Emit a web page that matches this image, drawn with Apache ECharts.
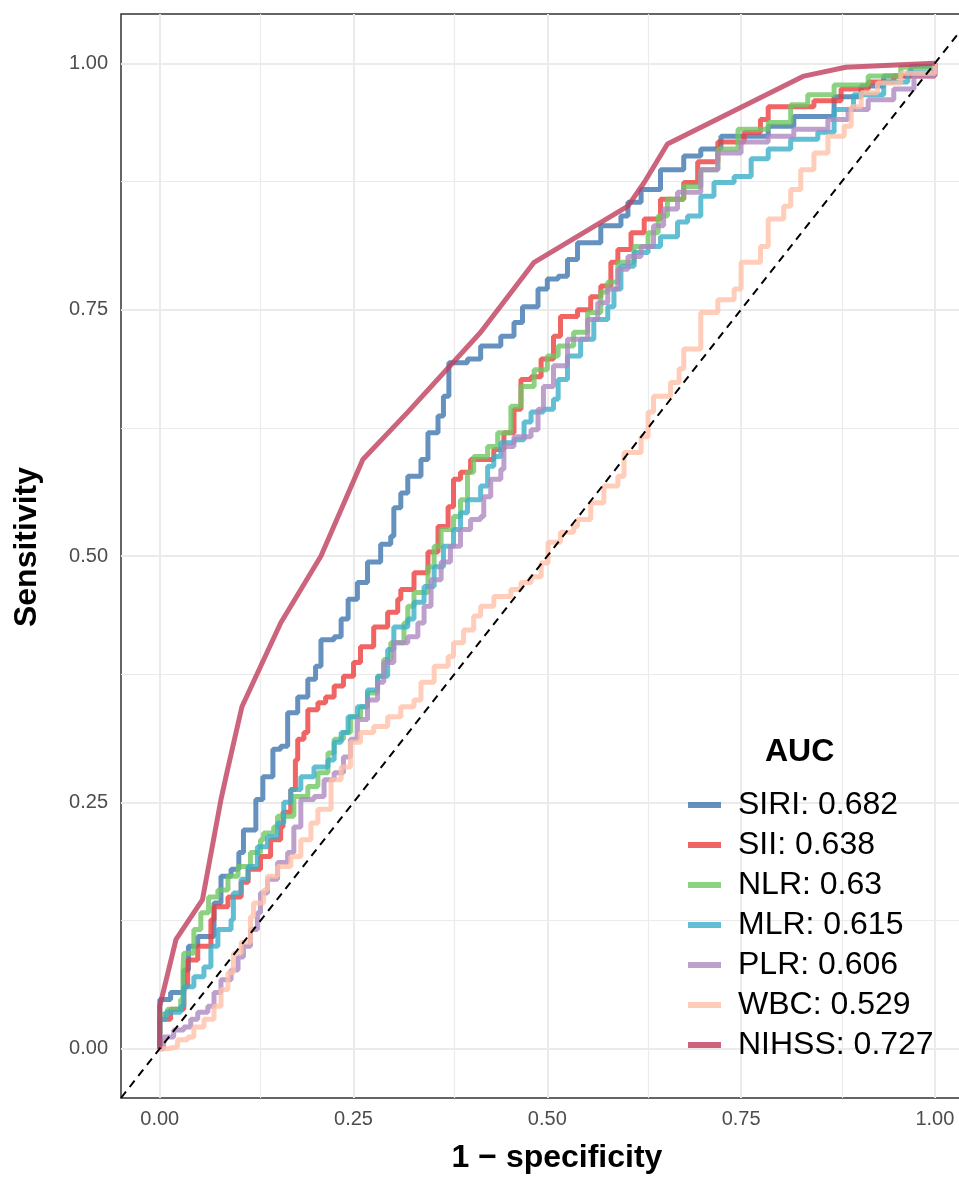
<!DOCTYPE html>
<html>
<head>
<meta charset="utf-8">
<script src="https://cdn.jsdelivr.net/npm/echarts@6/dist/echarts.min.js"></script>
<style>
  html, body { margin: 0; padding: 0; background: #fff; }
  #chart { width: 959px; height: 1177px; }
</style>
</head>
<body>
<div id="chart"></div>
<script>
// ROC points as [1 - specificity, sensitivity]
const SIRI = [[0,0],[0,0.05],[0.014,0.057],[0.031,0.08],[0.037,0.104],[0.049,0.114],[0.07,0.148],[0.079,0.175],[0.092,0.182],[0.102,0.199],[0.108,0.222],[0.124,0.253],[0.133,0.276],[0.146,0.304],[0.156,0.307],[0.165,0.341],[0.178,0.357],[0.191,0.375],[0.201,0.388],[0.208,0.415],[0.225,0.418],[0.234,0.436],[0.243,0.456],[0.255,0.473],[0.268,0.494],[0.285,0.512],[0.298,0.52],[0.302,0.549],[0.311,0.564],[0.32,0.581],[0.337,0.598],[0.346,0.625],[0.359,0.642],[0.366,0.662],[0.373,0.696],[0.397,0.7],[0.414,0.713],[0.44,0.723],[0.457,0.737],[0.468,0.753],[0.488,0.771],[0.5,0.781],[0.514,0.784],[0.526,0.801],[0.539,0.818],[0.569,0.835],[0.595,0.845],[0.604,0.859],[0.621,0.872],[0.646,0.892],[0.676,0.906],[0.698,0.913],[0.724,0.926],[0.754,0.926],[0.785,0.936],[0.818,0.946],[0.87,0.966],[0.905,0.977],[0.934,0.987],[0.969,0.997],[1,1]];
const SII = [[0,0],[0,0.03],[0.005,0.03],[0.014,0.04],[0.031,0.063],[0.036,0.09],[0.049,0.104],[0.066,0.131],[0.07,0.144],[0.088,0.154],[0.105,0.169],[0.114,0.182],[0.13,0.195],[0.143,0.212],[0.156,0.225],[0.159,0.24],[0.169,0.263],[0.175,0.293],[0.178,0.314],[0.186,0.321],[0.191,0.344],[0.204,0.351],[0.214,0.357],[0.225,0.368],[0.237,0.378],[0.25,0.392],[0.259,0.408],[0.276,0.428],[0.294,0.443],[0.307,0.456],[0.311,0.466],[0.328,0.483],[0.346,0.504],[0.359,0.53],[0.372,0.55],[0.379,0.578],[0.388,0.585],[0.401,0.598],[0.431,0.608],[0.444,0.625],[0.457,0.649],[0.466,0.679],[0.479,0.682],[0.492,0.7],[0.508,0.723],[0.517,0.743],[0.539,0.75],[0.556,0.763],[0.569,0.774],[0.582,0.798],[0.591,0.811],[0.608,0.828],[0.625,0.842],[0.646,0.862],[0.676,0.879],[0.694,0.9],[0.72,0.92],[0.754,0.93],[0.775,0.943],[0.785,0.956],[0.844,0.962],[0.879,0.974],[0.914,0.981],[0.947,0.987],[1,1]];
const NLR = [[0,0],[0,0.035],[0.01,0.04],[0.027,0.05],[0.03,0.08],[0.031,0.097],[0.044,0.121],[0.053,0.138],[0.063,0.154],[0.075,0.161],[0.088,0.175],[0.101,0.185],[0.117,0.199],[0.13,0.212],[0.134,0.219],[0.147,0.225],[0.152,0.236],[0.173,0.256],[0.191,0.266],[0.204,0.28],[0.217,0.3],[0.225,0.314],[0.237,0.321],[0.246,0.337],[0.259,0.347],[0.268,0.361],[0.281,0.378],[0.289,0.395],[0.298,0.412],[0.315,0.432],[0.32,0.449],[0.328,0.463],[0.346,0.489],[0.354,0.51],[0.363,0.527],[0.379,0.54],[0.388,0.557],[0.397,0.585],[0.405,0.601],[0.423,0.611],[0.436,0.625],[0.453,0.652],[0.466,0.672],[0.483,0.689],[0.5,0.703],[0.514,0.713],[0.534,0.727],[0.552,0.747],[0.569,0.768],[0.578,0.778],[0.591,0.798],[0.612,0.814],[0.63,0.828],[0.643,0.845],[0.655,0.862],[0.676,0.875],[0.698,0.892],[0.72,0.913],[0.746,0.933],[0.785,0.94],[0.814,0.958],[0.836,0.968],[0.87,0.978],[0.914,0.987],[0.956,0.996],[1,1]];
const MLR = [[0,0],[0,0.03],[0.008,0.037],[0.027,0.043],[0.031,0.063],[0.044,0.073],[0.057,0.083],[0.066,0.104],[0.075,0.121],[0.092,0.131],[0.095,0.158],[0.105,0.172],[0.114,0.185],[0.126,0.205],[0.139,0.215],[0.152,0.229],[0.16,0.25],[0.169,0.263],[0.182,0.276],[0.199,0.286],[0.217,0.293],[0.225,0.311],[0.234,0.321],[0.243,0.337],[0.255,0.347],[0.268,0.364],[0.281,0.378],[0.294,0.405],[0.302,0.428],[0.32,0.436],[0.328,0.453],[0.341,0.469],[0.354,0.489],[0.366,0.51],[0.379,0.527],[0.388,0.544],[0.397,0.557],[0.414,0.571],[0.423,0.591],[0.431,0.601],[0.44,0.615],[0.457,0.618],[0.47,0.636],[0.479,0.646],[0.495,0.649],[0.508,0.659],[0.514,0.679],[0.526,0.703],[0.543,0.72],[0.56,0.74],[0.578,0.753],[0.586,0.771],[0.595,0.794],[0.612,0.808],[0.63,0.814],[0.646,0.824],[0.668,0.839],[0.681,0.845],[0.698,0.865],[0.715,0.879],[0.741,0.885],[0.763,0.903],[0.785,0.913],[0.814,0.923],[0.849,0.93],[0.87,0.953],[0.895,0.968],[0.934,0.981],[0.965,0.991],[1,1]];
const PLR = [[0,0],[0.005,0.012],[0.018,0.019],[0.031,0.022],[0.04,0.03],[0.049,0.037],[0.062,0.043],[0.07,0.057],[0.079,0.07],[0.092,0.08],[0.101,0.093],[0.108,0.104],[0.117,0.121],[0.126,0.138],[0.13,0.158],[0.139,0.172],[0.152,0.189],[0.165,0.199],[0.173,0.225],[0.182,0.253],[0.199,0.256],[0.212,0.273],[0.225,0.28],[0.237,0.296],[0.246,0.314],[0.255,0.334],[0.268,0.354],[0.281,0.372],[0.289,0.392],[0.302,0.412],[0.32,0.418],[0.333,0.432],[0.341,0.449],[0.35,0.476],[0.363,0.494],[0.375,0.51],[0.388,0.527],[0.401,0.537],[0.414,0.54],[0.418,0.56],[0.427,0.578],[0.44,0.588],[0.444,0.611],[0.457,0.621],[0.479,0.628],[0.488,0.649],[0.495,0.672],[0.508,0.693],[0.526,0.72],[0.552,0.74],[0.565,0.757],[0.578,0.771],[0.591,0.791],[0.604,0.804],[0.621,0.814],[0.637,0.835],[0.65,0.852],[0.668,0.869],[0.698,0.892],[0.72,0.909],[0.75,0.92],[0.785,0.926],[0.818,0.933],[0.862,0.943],[0.888,0.953],[0.914,0.963],[0.947,0.974],[0.973,0.987],[1,1]];
const WBC = [[0,0],[0.01,0.002],[0.023,0.009],[0.036,0.012],[0.044,0.022],[0.057,0.03],[0.07,0.043],[0.079,0.06],[0.088,0.077],[0.095,0.097],[0.105,0.108],[0.117,0.134],[0.121,0.148],[0.134,0.161],[0.139,0.175],[0.152,0.185],[0.169,0.195],[0.182,0.212],[0.195,0.229],[0.204,0.243],[0.221,0.26],[0.221,0.273],[0.234,0.286],[0.246,0.311],[0.259,0.321],[0.276,0.327],[0.294,0.337],[0.311,0.347],[0.328,0.354],[0.337,0.372],[0.354,0.388],[0.372,0.398],[0.379,0.412],[0.392,0.425],[0.405,0.439],[0.414,0.449],[0.431,0.459],[0.453,0.466],[0.466,0.473],[0.479,0.479],[0.492,0.493],[0.501,0.514],[0.517,0.524],[0.534,0.53],[0.539,0.537],[0.556,0.554],[0.573,0.571],[0.591,0.581],[0.599,0.605],[0.621,0.621],[0.63,0.646],[0.637,0.662],[0.659,0.676],[0.67,0.69],[0.676,0.71],[0.698,0.747],[0.72,0.76],[0.741,0.771],[0.75,0.798],[0.775,0.814],[0.785,0.842],[0.805,0.855],[0.814,0.872],[0.827,0.892],[0.844,0.909],[0.862,0.926],[0.883,0.936],[0.892,0.956],[0.905,0.97],[0.926,0.98],[0.956,0.99],[1,1]];
const NIHSS = [[0,0],[0,0.043],[0.021,0.111],[0.055,0.151],[0.079,0.253],[0.088,0.285],[0.106,0.347],[0.156,0.432],[0.208,0.5],[0.262,0.598],[0.32,0.646],[0.414,0.727],[0.483,0.798],[0.604,0.855],[0.625,0.879],[0.655,0.918],[0.831,0.987],[0.885,0.996],[1,1]];

const markers = ["SIRI", "SII", "NLR", "MLR", "PLR", "WBC", "NIHSS"];
const aucs = ["0.682", "0.638", "0.63", "0.615", "0.606", "0.529", "0.727"];
const curves = [SIRI, SII, NLR, MLR, PLR, WBC, NIHSS];
const colors = ["#3E75AE", "#EC3D3D", "#6FC763", "#3BAEC7", "#AE88C0", "#FFC0A8", "#C13D5C"];
const tickValues = [0, 0.25, 0.5, 0.75, 1];
const minorValues = [0.125, 0.375, 0.625, 0.875];

var chart = echarts.init(document.getElementById("chart"));
const font = "'Liberation Sans', Arial, Helvetica, sans-serif";

let series = [];
// grid lines (ggplot-like major/minor)
series.push({
  type: "line",
  data: [],
  silent: true,
  markLine: {
    silent: true,
    z: 1,
    symbol: "none",
    label: { show: false },
    animation: false,
    data: [
      ...tickValues.map(v => ({ xAxis: v, lineStyle: { color: "#ebebeb", width: 2, type: "solid" } })),
      ...minorValues.map(v => ({ xAxis: v, lineStyle: { color: "#ebebeb", width: 1.2, type: "solid" } })),
      ...tickValues.map(v => ({ yAxis: v, lineStyle: { color: "#ebebeb", width: 2, type: "solid" } })),
      ...minorValues.map(v => ({ yAxis: v, lineStyle: { color: "#ebebeb", width: 1.2, type: "solid" } })),
    ],
  },
});

markers.forEach((m, i) => {
  series.push({
    name: m + ": " + aucs[i],
    type: "line",
    data: curves[i],
    step: m === "NIHSS" ? false : "end",
    showSymbol: false,
    symbol: "none",
    z: 2,
    itemStyle: { color: colors[i] },
    lineStyle: { color: colors[i], width: 5, opacity: 0.8 },
  });
});

// reference diagonal
series.push({
  type: "line",
  data: [[-0.05, -0.05], [1.075, 1.075]],
  showSymbol: false,
  symbol: "none",
  z: 3,
  silent: true,
  lineStyle: { color: "#000", width: 2, type: [8, 6] },
});

var option = {
  backgroundColor: "#fff",
  animation: false,
  title: {
    text: "AUC",
    left: 765,
    top: 736,
    padding: 0,
    textStyle: { fontFamily: font, fontSize: 32, fontWeight: "bold", color: "#000", lineHeight: 32 },
  },
  legend: {
    orient: "vertical",
    left: 688,
    top: 785,
    padding: 0,
    itemGap: 0,
    itemWidth: 33,
    itemHeight: 6,
    icon: "rect",
    selectedMode: false,
    itemStyle: { opacity: 0.8 },
    data: markers.map((m, i) => m + ": " + aucs[i]),
    textStyle: { fontFamily: font, fontSize: 32, color: "#000", lineHeight: 40, padding: [0, 0, 0, 12] },
  },
  grid: {
    left: 121,
    top: 14,
    width: 872,
    height: 1084,
    show: true,
    borderColor: "#333",
    borderWidth: 1.5,
    backgroundColor: "#fff",
    outerBoundsMode: "none",
    containLabel: false,
  },
  xAxis: {
    type: "value",
    min: -0.05,
    max: 1.075,
    name: "1 \u2212 specificity",
    nameLocation: "middle",
    nameGap: 44,
    nameTextStyle: { fontFamily: font, fontSize: 32, fontWeight: "bold", color: "#000" },
    axisLine: { show: false },
    splitLine: { show: false },
    axisTick: { show: true, length: 6, customValues: tickValues, lineStyle: { color: "#333", width: 1.5 } },
    axisLabel: {
      customValues: tickValues,
      formatter: v => v.toFixed(2),
      fontFamily: font,
      fontSize: 20,
      color: "#4d4d4d",
      margin: 11,
    },
  },
  yAxis: {
    type: "value",
    min: -0.05,
    max: 1.05,
    name: "Sensitivity",
    nameLocation: "middle",
    nameGap: 78,
    nameTextStyle: { fontFamily: font, fontSize: 32, fontWeight: "bold", color: "#000", padding: [0, 0, 0, 18] },
    axisLine: { show: false },
    splitLine: { show: false },
    axisTick: { show: true, length: 6, customValues: tickValues, lineStyle: { color: "#333", width: 1.5 } },
    axisLabel: {
      customValues: tickValues,
      formatter: v => v.toFixed(2),
      fontFamily: font,
      fontSize: 20,
      color: "#4d4d4d",
      margin: 13,
    },
  },
  series: series,
};

chart.setOption(option);
window.addEventListener("resize", () => chart.resize());
</script>
</body>
</html>
